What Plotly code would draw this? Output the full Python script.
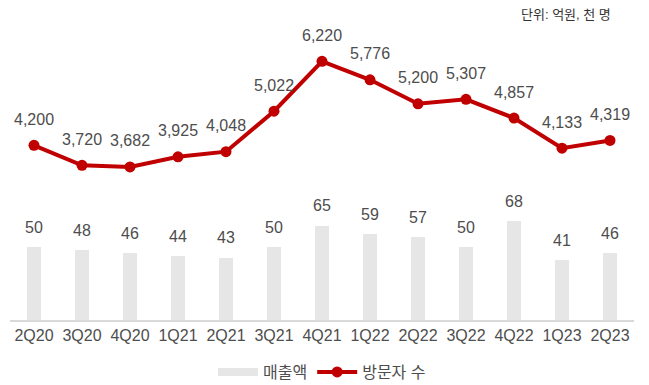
import plotly.graph_objects as go

quarters = ["2Q20", "3Q20", "4Q20", "1Q21", "2Q21", "3Q21", "4Q21",
            "1Q22", "2Q22", "3Q22", "4Q22", "1Q23", "2Q23"]
sales = [50, 48, 46, 44, 43, 50, 65, 59, 57, 50, 68, 41, 46]          # 매출액 (억원)
visitors = [4200, 3720, 3682, 3925, 4048, 5022, 6220, 5776, 5200,
            5307, 4857, 4133, 4319]                                   # 방문자 수 (천 명)

FONT = "Liberation Sans, Arial, Noto Sans CJK KR, sans-serif"
TEXT_COLOR = "#4D4D4D"
BAR_COLOR = "#E6E6E6"
LINE_COLOR = "#C00000"

W, H = 649, 385
L, R, T, B = 10, 15, 10, 65          # plot area margins in px
PLOT_W, PLOT_H = W - L - R, H - T - B

fig = go.Figure()

fig.add_trace(go.Bar(
    x=quarters, y=sales, name="매출액",
    marker=dict(color=BAR_COLOR, line=dict(width=0)),
    width=0.31, showlegend=False, yaxis="y",
))

# legend entry for the bars drawn as a flat wide swatch
fig.add_trace(go.Scatter(
    x=[None], y=[None], name="매출액", mode="lines",
    line=dict(color=BAR_COLOR, width=8), yaxis="y",
))

fig.add_trace(go.Scatter(
    x=quarters, y=visitors, name="방문자 수", mode="lines+markers",
    line=dict(color=LINE_COLOR, width=4),
    marker=dict(color=LINE_COLOR, size=11),
    yaxis="y2",
))

annotations = []
for q, v in zip(quarters, sales):
    annotations.append(dict(
        x=q, y=v, xref="x", yref="y", text=f"{v}", showarrow=False,
        yshift=20, font=dict(size=16, color=TEXT_COLOR, family=FONT),
    ))
for q, v in zip(quarters, visitors):
    annotations.append(dict(
        x=q, y=v, xref="x", yref="y2", text=f"{v:,}", showarrow=False,
        yshift=26, font=dict(size=16, color=TEXT_COLOR, family=FONT),
    ))
# unit note in the top-right corner
annotations.append(dict(
    x=(613 - L) / PLOT_W, y=(H - B - 14) / PLOT_H, xref="paper", yref="paper",
    text="단위: 억원, 천 명", showarrow=False, xanchor="right", yanchor="middle",
    font=dict(size=13, color="#333333", family=FONT),
))

fig.update_layout(
    width=W, height=H,
    margin=dict(l=L, r=R, t=T, b=B, autoexpand=False),
    paper_bgcolor="white", plot_bgcolor="white",
    font=dict(family=FONT, color=TEXT_COLOR, size=16),
    bargap=0,
    xaxis=dict(
        type="category", range=[-0.5, len(quarters) - 0.5],
        showgrid=False, showline=True,
        linecolor="#D9D9D9", linewidth=1.5, ticks="",
        tickfont=dict(size=16, color=TEXT_COLOR, family=FONT),
        automargin=False,
    ),
    yaxis=dict(range=[0, PLOT_H / 1.452], visible=False, showgrid=False),
    yaxis2=dict(range=[0, PLOT_H / 0.04158], overlaying="y", visible=False,
                showgrid=False),
    legend=dict(
        orientation="h", x=0.5, xanchor="center",
        y=-(372 - (H - B)) / PLOT_H, yanchor="middle",
        font=dict(size=16, color=TEXT_COLOR, family=FONT),
        itemwidth=40, traceorder="normal",
    ),
    annotations=annotations,
    showlegend=True,
)

fig.write_html("out.html")
